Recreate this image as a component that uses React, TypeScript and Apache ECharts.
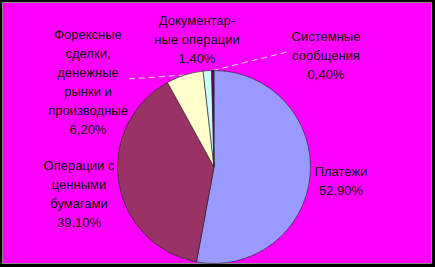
import React, { useEffect, useRef } from "react";
import * as echarts from "echarts";

const categories = [
  "Платежи",
  "Операции с\nценными\nбумагами",
  "Форексные\nсделки,\nденежные\nрынки и\nпроизводные",
  "Документар-\nные операции",
  "Системные\nсообщения",
];
const values = [52.9, 39.1, 6.2, 1.4, 0.4];
const colors = ["#9999FF", "#993366", "#FFFFCC", "#CCFFFF", "#660066"];

// label layout (block centre) and leader-line visibility per slice
const labelPos = [
  [341, 181],
  [79, 194],
  [88, 82],
  [197, 39],
  [326, 55],
];
const leaderEnd = [null, null, [128, 79], null, [287, 52]];

const fmt = (v: number) => v.toFixed(2).replace(".", ",") + "%";

export default function App() {
  const ref = useRef<HTMLDivElement>(null);
  useEffect(() => {
    if (!ref.current) return;
    const chart = echarts.init(ref.current, null, { renderer: "svg" });
    chart.setOption({
      animation: false,
      backgroundColor: "#000000",
      graphic: [
        {
          type: "rect",
          z: -10,
          shape: { x: 2.5, y: 2.5, width: 429, height: 261 },
          style: { fill: "#FF00FF", stroke: "#8a8a8a", lineWidth: 1 },
        },
      ],
      series: [
        {
          type: "pie",
          center: [214, 167],
          radius: 96.5,
          startAngle: 90,
          clockwise: true,
          avoidLabelOverlap: false,
          itemStyle: { borderColor: "#222", borderWidth: 0.6 },
          label: {
            show: true,
            position: "outside",
            formatter: (p: any) => p.name + "\n" + fmt(p.value),
            fontFamily: "'Liberation Sans', Arial, sans-serif",
            fontSize: 13,
            lineHeight: 19,
            color: "#111",
            align: "center",
          },
          labelLine: { show: true, lineStyle: { color: "#dddddd", width: 1, type: [6, 4] } },
          labelLayout: (params: any) => {
            const i = params.dataIndex;
            const [x, y] = labelPos[i];
            const res: any = { x, y, align: "center", verticalAlign: "middle" };
            const end = leaderEnd[i];
            if (end) {
              const pts = params.labelLinePoints;
              const start = pts && pts[0] ? pts[0] : end;
              res.labelLinePoints = [start, end, end];
            }
            return res;
          },
          data: categories.map((name, i) => ({
            name,
            value: values[i],
            itemStyle: { color: colors[i] },
            labelLine: { show: !!leaderEnd[i] },
          })),
        },
      ],
    });
    return () => chart.dispose();
  }, []);
  return (
    <div
      ref={ref}
      style={{ position: "fixed", left: 0, top: 0, width: 435, height: 267 }}
    />
  );
}
